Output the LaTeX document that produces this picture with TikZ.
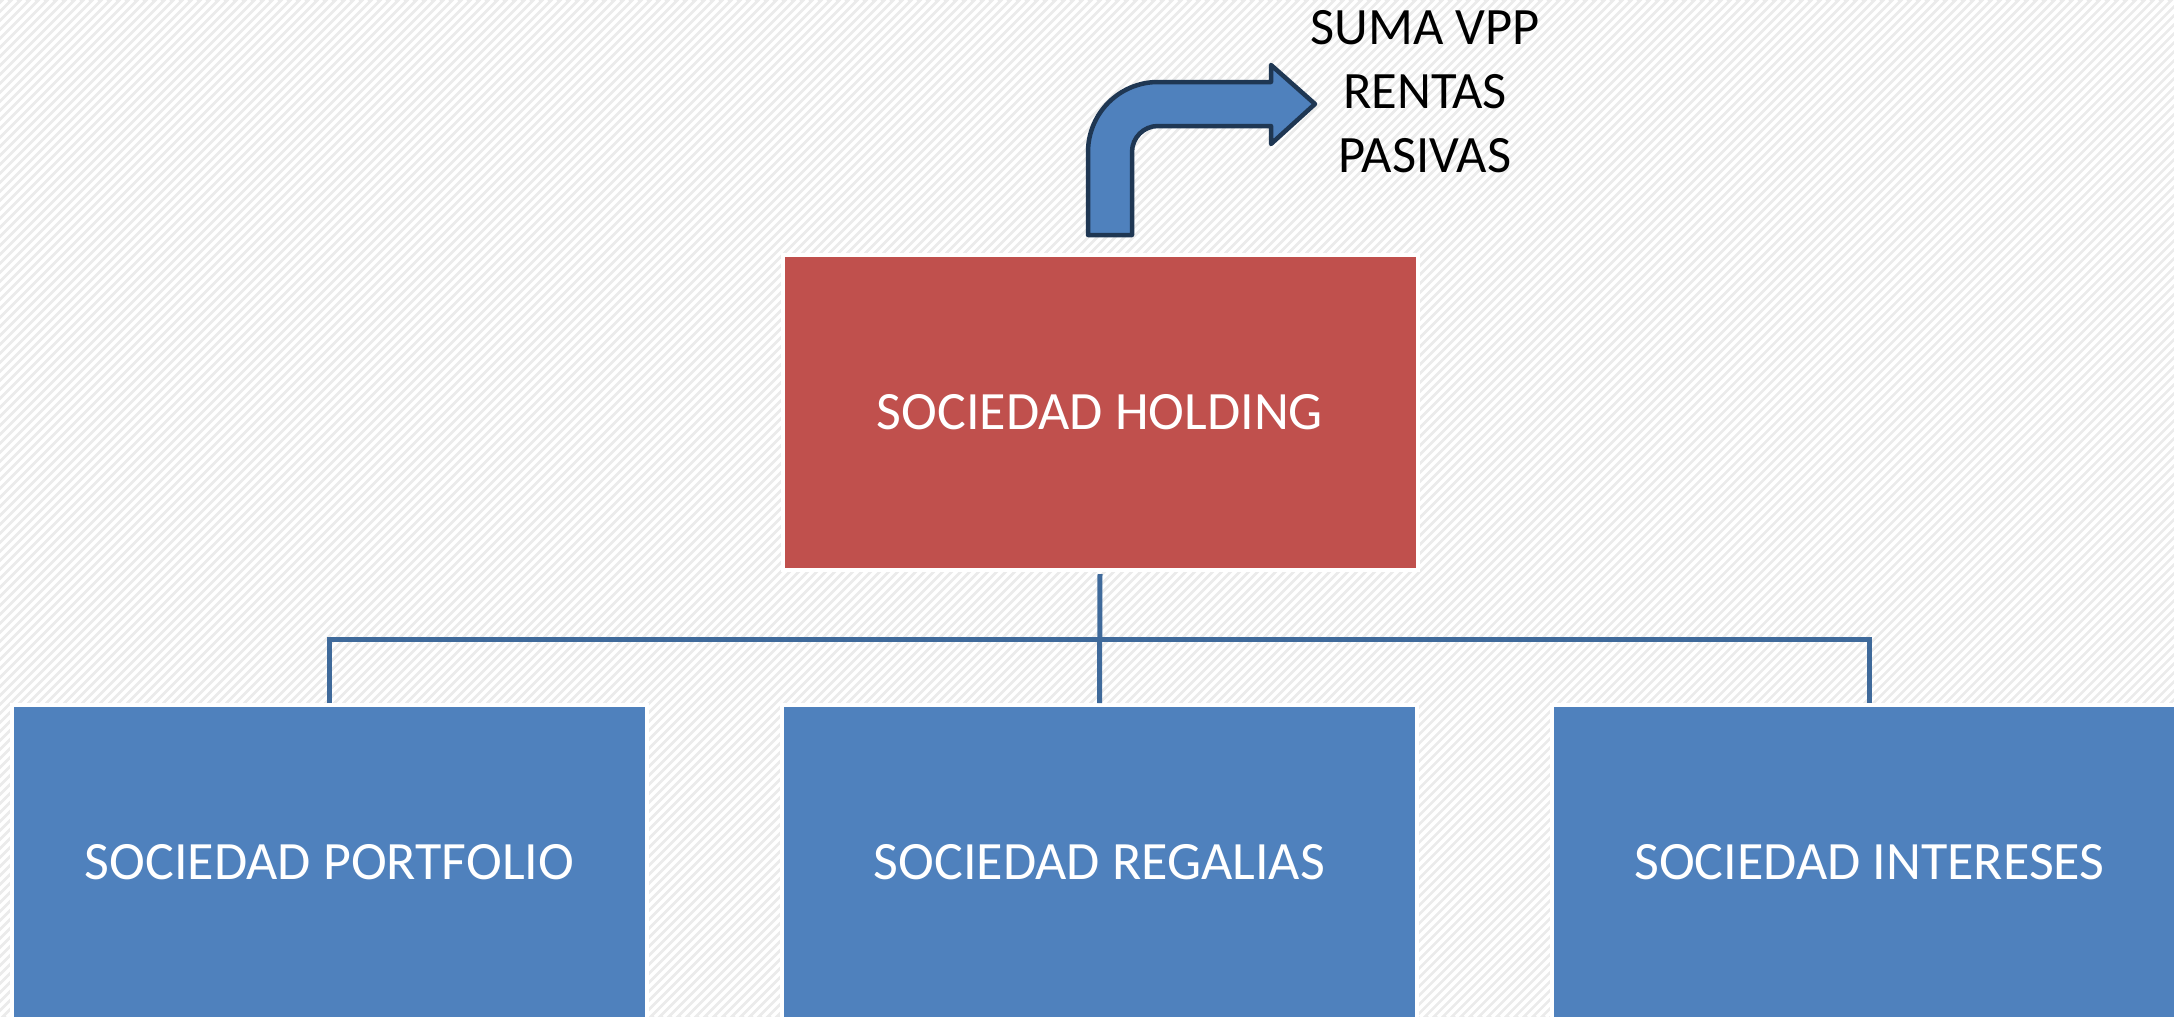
\documentclass[tikz,border=0pt]{standalone}
\usepackage{fontspec}
\setmainfont{Carlito}
\definecolor{bgc}{HTML}{EBEBEB}
\definecolor{redbox}{HTML}{C0504D}
\definecolor{bluebox}{HTML}{4F81BD}
\definecolor{connc}{HTML}{3F6A9B}
\definecolor{arrowline}{HTML}{1F3753}
\tikzset{
  orgbox/.style={draw=white, line width=4pt, minimum width=635pt, minimum height=315pt,
    inner sep=0pt, outer sep=2pt, text=white, font=\fontsize{54}{64}\selectfont},
  conn/.style={draw=connc, line width=5pt},
  bigarrow/.style={fill=bluebox, draw=arrowline, line width=4.5pt, line join=round},
  sidelabel/.style={align=center, inner sep=0pt, font=\fontsize{52.5}{64}\selectfont, text=black}
}
\begin{document}
\begin{tikzpicture}[x=1pt,y=-1pt]
\useasboundingbox (0,0) rectangle (2174,1017);
\begin{scope}
\clip (0,0) rectangle (2174,1017);
\fill[bgc] (0,0) rectangle (2174,1017);
\foreach \i in {-1100,-1091,...,2200}
  \draw[white, line width=3.5pt] (\i,1017) -- ++(1017,-1017);

\node[orgbox, fill=redbox] (hold) at (1100,412.5) {SOCIEDAD HOLDING};
\node[orgbox, fill=bluebox] (left) at (329.5,862.5) {SOCIEDAD PORTFOLIO};
\node[orgbox, fill=bluebox] (mid) at (1099.5,862.5) {SOCIEDAD REGALIAS};
\node[orgbox, fill=bluebox] (right) at (1869.5,862.5) {SOCIEDAD INTERESES};

\coordinate (bus) at (1099.5,639);
\draw[conn, shorten <=2pt] (hold.south) -- (mid.north);
\draw[conn] (left.north) |- (bus) -| (right.north);

\path[bigarrow] (1088,235) -- (1088,152) arc[start angle=180, end angle=270, radius=70]
  -- (1271,82) -- (1271,65) -- (1315,104) -- (1271,144) -- (1271,126) -- (1158,126)
  arc[start angle=270, end angle=180, radius=26] -- (1132,235) -- cycle;

\node[sidelabel] (vpp) at (1425,92) {SUMA VPP\\RENTAS\\PASIVAS};
\end{scope}
\end{tikzpicture}
\end{document}
